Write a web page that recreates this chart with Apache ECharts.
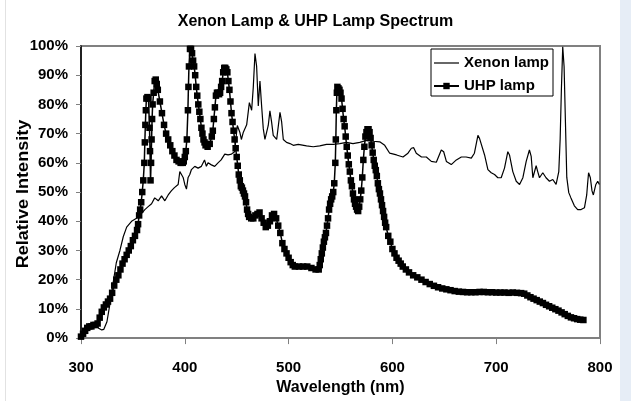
<!DOCTYPE html>
<html>
<head>
<meta charset="utf-8">
<script src="https://cdn.jsdelivr.net/npm/echarts@6/dist/echarts.min.js"></script>
<style>
html,body{margin:0;padding:0;background:#fff;}
#c{width:631px;height:401px;}
</style>
</head>
<body>
<div id="c"></div>
<script>
var titleText = 'Xenon Lamp & UHP Lamp Spectrum';
var xName = 'Wavelength (nm)';
var yName = 'Relative Intensity';
var seriesNames = ['Xenon lamp', 'UHP lamp'];
var xTicks = [300, 400, 500, 600, 700, 800];
var yTicks = [0, 10, 20, 30, 40, 50, 60, 70, 80, 90, 100];

var xenonWl = [300,302,304,307,310,313,317,320,322,325,328,331,334,337.5,340.7,344,348.7,353.5,358,361.5,364.7,368,371,374.4,377.6,380.8,384,387,390,393.6,395.2,396.8,398.4,400,401.6,403.2,404.8,406.4,409.6,412.8,416,419,420.8,422.4,425.6,428.8,432,435,438.5,441.7,445,448,450.6,453,454.5,456.4,459.6,462.2,464.4,466,467.6,469.2,470.8,472.4,474,475.6,477.2,480.4,482,483.6,485.2,488.5,491.7,493.3,494.9,498,501.3,504.5,509.3,517.3,523.7,530,536.5,543,549.3,555.8,562,568.6,575,581.4,587.8,592.6,597.4,604,610.2,615,618.3,620.5,623,628,632.7,637.5,642.3,647.1,649.4,652,656.7,661.6,666.4,671,676,679,682.4,684,685.6,688.8,692,695.2,698.4,701.6,704.8,708,711.2,712.8,716,719.3,722.5,725.7,728.9,732,733.7,735.3,738.5,740,741.7,744.9,748,751.3,754.5,757.7,760.3,761.6,762.8,764.1,765.4,766.7,768,769.9,772,775.3,778.5,781.8,785,787.2,788,789,790.7,792.3,793.6,796,797.8,799.4];
var xenonVal = [0.5,2,3.4,4.5,5,4.5,3.4,2.8,3,5.6,12,19,25.8,30,34.7,38,40,41,42.5,44,45,46,48,47,48.7,47,49,50.4,51.5,52.6,57,56,55,52.6,51,55,56,57.7,58.8,58.2,58.8,61,58.8,60,59.3,58.8,60,61,63,62.7,63,63.8,72.8,70.5,68,70.5,73,80.6,78,86,97.4,93,79.5,88,79.5,71.7,68,72.8,77.8,74,69.4,68,77.3,74,68,67,66.6,66,66.3,65.8,65.5,65.8,66.3,66.3,66.6,67,66.6,67,67.7,67.4,67.2,66,63.3,62.7,62,63.3,65,65.2,63.3,62,62,60.5,60.2,64.4,63.8,60.5,59.4,61,62,62,61.6,63.3,69.4,68.3,68.9,62.7,57.7,56.6,56,54.9,54.9,58.2,63.8,62.7,57,53.7,52.6,54.9,60.5,64.4,62.2,54.9,59,57,54.9,56.6,54.9,53.7,54.3,52.6,57,68,85,99.7,93,74,55,49.8,48,45.3,44,44,44.6,49,52.6,56.6,54.9,50.4,49,52.6,53.7,52.6];

var uhpWl = [300,302,304,306,308,310,312,314,316,318,320,322,324,326,328,330,332,334,336,338,340,342,344,346,348,350,352,354,355,356,357,358,359,360,361,361.5,362,362.5,363,364,365,366,366.5,367,367.5,368,368.5,369,370,371,372,373,374,376,378,380,382,384,386,388,390,392,394,396,398,399,400,401,402,403,403.5,404,405,406,407,408,409,410,411,412,413,414,415,416,417,418,419,420,422,424,426,427,428,429,430,431,432,433,434,435,436,437,438,439,440,441,442,443,444,445,446,447,448,449,450,451,452,453,454,455,456,457,458,459,460,461,462,464,466,468,470,472,474,476,478,480,482,484,486,488,490,492,494,496,498,500,502,504,506,510,514,518,522,526,529,530,531,532,533,534,535,536,537,538,539,540,541,542,543,544,545,545.5,546,546.5,547,548,549,550,551,552,553,554,555,556,557,558,559,560,561,562,563,564,565,566,567,568,569,570,571,572,573,574,575,576,577,578,579,580,581,582,583,584,585,586,587,588,589,590,591,592,593,594,596,598,600,602,604,606,608,610,613,616,620,624,628,632,636,640,644,648,652,656,660,664,668,672,676,680,684,688,692,696,700,704,708,712,716,720,724,727,730,733,736,739,742,745,748,751,754,757,760,763,766,769,772,775,778,781,784];
var uhpVal = [0.5,1.5,2.5,3.5,4,4,4.5,4.5,5,7,9,10.5,11.5,12.5,13.5,15.5,18,20,21.5,23.5,25.5,27,28.5,30,31.5,33.5,35,37,39,42,44,46.5,50,54,60,67,73,78,82,82.5,82,72,64,54,60,68,75,80,84,88,88.5,87,85,81,77,73,70,68,66,64,62.5,61,60.5,60,60,60.5,62,64,68,78,86,93,99,99,97.5,95,93,90,86,83,80,77.5,75,72,70,68,67,66,65.5,66.5,69,71,75,79,83,84,84,83.5,84,86,88,91,92.5,92.5,92,91,88,85,81,77,74,71,68,65,62,59,56,54,52,51.5,50.5,49.5,48.5,46.5,44,42.5,41.5,41,41,42,42.5,43,41,39.5,38,38.5,40,42,42.5,41,38.5,36,32.5,30.5,29,27.5,26,25,24.5,24.5,24.5,24.5,24,23.5,23.5,25,27,29,31,33,34.5,36,38.5,41,44,46,47.5,48.5,50,53,60,68,78,84,86,85.5,85,84,82,78.5,75,72.5,69,65.5,62.5,59.5,57,54,52,49.5,47.5,46,45,44,43.5,45,47.5,50.5,55,61,65.5,69,70.5,71.5,71.5,70.5,68.5,66,63.5,61,59,57.5,55.5,53,51,49.5,47.5,45.5,43.5,41.5,39.5,38,35,33,30.5,29,27.5,26.5,25.5,24.5,23.5,22.5,21.5,20.8,20,19.2,18.5,17.9,17.4,17,16.7,16.4,16.1,15.9,15.8,15.7,15.7,15.7,15.8,15.8,15.7,15.7,15.6,15.6,15.6,15.5,15.6,15.5,15.4,15.2,14.6,14,13.5,13,12.5,12,11.4,10.9,10.4,9.9,9.4,8.8,8.2,7.6,7.1,6.8,6.5,6.3,6.2];

function pairs(a, b) { var r = []; for (var i = 0; i < a.length; i++) r.push([a[i], b[i]]); return r; }

var FONT = '"Liberation Sans", Arial, sans-serif';
var chart = echarts.init(document.getElementById('c'), null, {renderer: 'canvas'});
chart.setOption({
  animation: false,
  backgroundColor: '#fff',
  title: {
    text: titleText, left: 'center', top: 14, padding: 0,
    textStyle: {fontSize: 16, fontWeight: 'bold', color: '#000', fontFamily: FONT}
  },
  graphic: [
    {type: 'rect', silent: true, z: -10, shape: {x: 620, y: 0, width: 11, height: 401}, style: {fill: '#e6edf6'}},
    {type: 'line', silent: true, z: -10, shape: {x1: 5.5, y1: 0, x2: 5.5, y2: 401}, style: {stroke: '#e2e2e2', lineWidth: 1}},
    {type: 'text', silent: true, x: 24, y: 194, rotation: Math.PI / 2, scaleX: 1.13,
     style: {text: yName, font: 'bold 16px ' + FONT, fill: '#000', textAlign: 'center', textVerticalAlign: 'middle', align: 'center', verticalAlign: 'middle'}}
  ],
  legend: {
    orient: 'vertical', left: 431, top: 49,
    itemWidth: 25, itemHeight: 8, itemGap: 7,
    padding: [6, 4, 2, 2],
    borderColor: '#000', borderWidth: 1,
    textStyle: {fontSize: 15, fontWeight: 'bold', color: '#000', fontFamily: FONT, lineHeight: 16},
    data: [
      {name: seriesNames[0], icon: 'path://M0,0 L25,0 L25,1.2 L0,1.2 Z'},
      {name: seriesNames[1]}
    ]
  },
  grid: {left: 81, right: 31, top: 46, bottom: 58, show: true, borderColor: '#808080', borderWidth: 2, backgroundColor: 'transparent'},
  xAxis: {
    type: 'value', min: xTicks[0], max: xTicks[xTicks.length - 1], interval: 100,
    name: xName, nameLocation: 'middle', nameGap: 39,
    nameTextStyle: {fontSize: 16, fontWeight: 'bold', color: '#000', fontFamily: FONT},
    axisLine: {show: true, lineStyle: {color: '#808080', width: 2}},
    axisTick: {show: true, length: 6, lineStyle: {color: '#808080', width: 1}},
    axisLabel: {margin: 22, fontSize: 15, fontWeight: 'bold', color: '#000', fontFamily: FONT},
    splitLine: {show: false}
  },
  yAxis: {
    type: 'value', min: yTicks[0], max: yTicks[yTicks.length - 1], interval: 10,
    axisLine: {show: true, lineStyle: {color: '#000', width: 1.5}},
    axisTick: {show: true, length: 5, lineStyle: {color: '#808080', width: 1}},
    axisLabel: {margin: 13, formatter: '{value}%', fontSize: 15, fontWeight: 'bold', color: '#000', fontFamily: FONT},
    splitLine: {show: false}
  },
  series: [
    {
      name: seriesNames[0], type: 'line', symbol: 'none',
      lineStyle: {color: '#000', width: 1.2}, itemStyle: {color: '#000'},
      data: pairs(xenonWl, xenonVal)
    },
    {
      name: seriesNames[1], type: 'line', symbol: 'rect', symbolSize: 6.5, showSymbol: true,
      lineStyle: {color: '#000', width: 1.5}, itemStyle: {color: '#000'},
      data: pairs(uhpWl, uhpVal)
    }
  ]
});
</script>
</body>
</html>
